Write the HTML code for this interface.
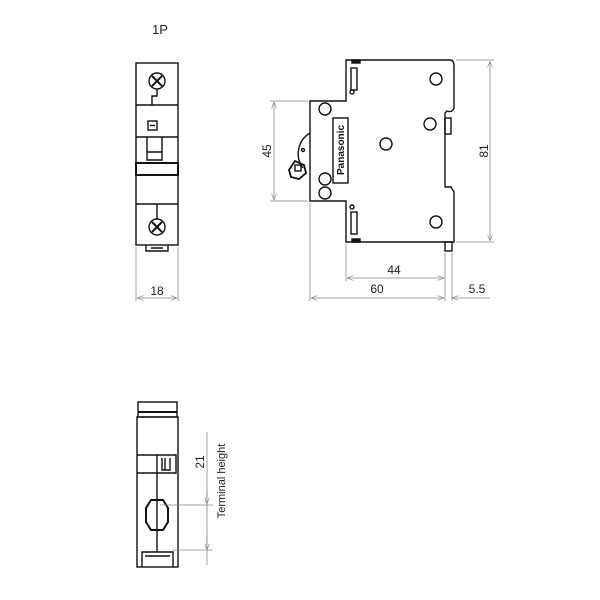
<!DOCTYPE html>
<html><head><meta charset="utf-8"><style>body{margin:0;background:#fff}svg{display:block}text{font-family:"Liberation Sans",sans-serif;fill:#222}</style></head><body>
<svg width="600" height="600" viewBox="0 0 600 600">
<defs><marker id="a" markerWidth="8" markerHeight="6" refX="8" refY="3" orient="auto-start-reverse"><path d="M0,0 L8,3 L0,6" fill="none" stroke="#888" stroke-width="0.8"/></marker></defs>
<text x="160" y="34" font-size="13" text-anchor="middle">1P</text>
<g fill="none" stroke="#111" stroke-width="1.4">
<rect x="136" y="63" width="42" height="182"/>
<line x1="136" y1="105" x2="178" y2="105"/>
<line x1="136" y1="137" x2="178" y2="137"/>
<line x1="136" y1="163" x2="178" y2="163"/>
<line x1="136" y1="175" x2="178" y2="175"/>
<line x1="136" y1="204" x2="178" y2="204"/>
<rect x="136" y="163" width="42" height="12" stroke-width="2"/>
<path d="M147 137V160H162V137M147 152H162"/>
<circle cx="157" cy="81" r="8"/><path d="M152 76l10 10M162 76l-10 10" stroke-width="2"/>
<path d="M157 89V96H152V105"/>
<circle cx="157" cy="227" r="8"/><path d="M152 222l10 10M162 222l-10 10" stroke-width="2"/>
<path d="M157 204V219"/>
<rect x="148" y="121" width="9" height="9"/><path d="M150 125.5H155"/>
<path d="M146 245V251H168V245M151 248H163"/>
</g>
<g stroke="#888" stroke-width="0.8" fill="none">
<line x1="136" y1="247" x2="136" y2="301"/><line x1="178" y1="247" x2="178" y2="301"/>
<line x1="137" y1="298" x2="177" y2="298" marker-start="url(#a)" marker-end="url(#a)"/>
</g>
<text x="157" y="295" font-size="12" text-anchor="middle">18</text>

<g fill="none" stroke="#111" stroke-width="1.4">
<path d="M346 60H450Q454 60 454 66V108Q452 113 447 111L445 113V187H451L454 192V242H346V201H310V101H346Z"/>
<path d="M310 133A24 24 0 0 0 303 168" />
<circle cx="436" cy="79" r="6"/><circle cx="430" cy="124" r="6"/><circle cx="386" cy="144" r="6"/>
<circle cx="325" cy="109" r="6"/><circle cx="325" cy="179" r="6"/><circle cx="325" cy="193" r="6"/>
<circle cx="436" cy="222" r="6"/>
<rect x="333" y="118" width="15" height="65"/>
<rect x="351" y="68" width="6" height="22"/><rect x="351" y="212" width="6" height="22"/>
<rect x="352" y="60" width="8" height="3" fill="#111"/><rect x="352" y="239" width="8" height="3" fill="#111"/>
<rect x="445" y="118" width="6" height="16"/>
<rect x="445" y="242" width="7" height="9"/>
<path d="M289 170l6-9 9 4 2 8-7 6-8-2z" stroke-width="1.8"/><rect x="295" y="165" width="6" height="6"/>
<circle cx="303" cy="150" r="1.5"/><circle cx="352" cy="92" r="2"/><circle cx="352" cy="207" r="2"/>
</g>
<text transform="translate(344,150) rotate(-90)" font-size="10" font-weight="bold" text-anchor="middle" style="fill:#111">Panasonic</text>
<g stroke="#888" stroke-width="0.8" fill="none">
<line x1="270" y1="101" x2="308" y2="101"/><line x1="270" y1="201" x2="308" y2="201"/>
<line x1="274" y1="102" x2="274" y2="200" marker-start="url(#a)" marker-end="url(#a)"/>
<line x1="456" y1="60" x2="494" y2="60"/><line x1="456" y1="242" x2="494" y2="242"/>
<line x1="490" y1="61" x2="490" y2="241" marker-start="url(#a)" marker-end="url(#a)"/>
<line x1="346" y1="244" x2="346" y2="281"/><line x1="445" y1="253" x2="445" y2="301"/>
<line x1="310" y1="203" x2="310" y2="301"/><line x1="452" y1="253" x2="452" y2="301"/>
<line x1="347" y1="278" x2="444" y2="278" marker-start="url(#a)" marker-end="url(#a)"/>
<line x1="311" y1="298" x2="444" y2="298" marker-start="url(#a)" marker-end="url(#a)"/>
<line x1="460" y1="298" x2="490" y2="298"/><line x1="452" y1="298" x2="460" y2="298" marker-start="url(#a)"/>
</g>
<text transform="translate(271,151) rotate(-90)" font-size="12" text-anchor="middle">45</text>
<text transform="translate(488,151) rotate(-90)" font-size="12" text-anchor="middle">81</text>
<text x="394" y="274" font-size="12" text-anchor="middle">44</text>
<text x="377" y="293" font-size="12" text-anchor="middle">60</text>
<text x="477" y="293" font-size="12" text-anchor="middle">5.5</text>

<g fill="none" stroke="#111" stroke-width="1.4">
<rect x="138" y="402" width="39" height="15"/>
<rect x="137" y="417" width="41" height="150"/>
<line x1="138" y1="412" x2="177" y2="412" stroke-width="2"/>
<path d="M137 455H176V473H137M157 455V473M162 458V470H170V458M165 458V470"/>
<path d="M157 473V552"/>
<path d="M151 500H163L168 508V522L163 530H151L146 522V508Z" stroke-width="2"/>
<path d="M142 567V552H173V567M145 556H170"/>
</g>
<g stroke="#888" stroke-width="0.8" fill="none">
<line x1="207" y1="432" x2="207" y2="565"/>
<line x1="207" y1="490" x2="207" y2="504" marker-end="url(#a)"/>
<line x1="207" y1="535" x2="207" y2="550" marker-end="url(#a)"/>
<line x1="160" y1="505" x2="213" y2="505"/><line x1="172" y1="550" x2="213" y2="550"/>
</g>
<text transform="translate(204,462) rotate(-90)" font-size="12" text-anchor="middle">21</text>
<text transform="translate(225,481) rotate(-90)" font-size="11" text-anchor="middle">Terminal height</text>
</svg>
</body></html>
